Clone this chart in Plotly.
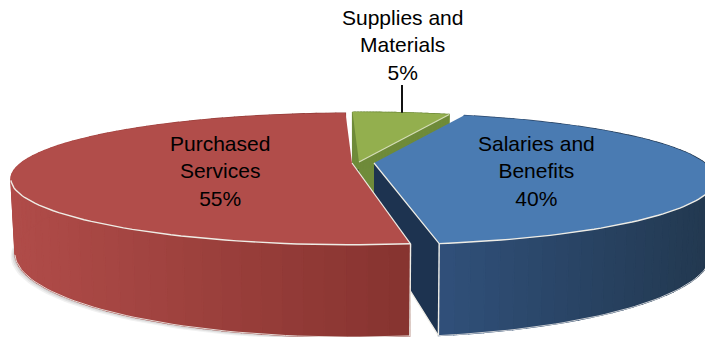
import math
import plotly.graph_objects as go

# Budget shares, clockwise from the back of the disc
categories = ["Supplies and<br>Materials", "Salaries and<br>Benefits", "Purchased<br>Services"]
shares = [5, 40, 55]
share_labels = ["5%", "40%", "55%"]

# Slice styling and position, same order as categories
apex_x = [359, 374, 352]
apex_y = [162, 163, 163]
front_skew = [10, 9.5, 10.4]
top_colors = ["#93AF4E", "#4A7BB2", "#B14D4A"]
wall_left = ["#6F8B3A", "#30507A", "#B04C49"]
wall_right = ["#6F8B3A", "#22384F", "#86332F"]
inner_colors = ["#6F8B3A", "#1D3350", "#86332F"]
label_x = [402, 536, 220]
label_y = [45, 171, 171]

# Camera used for the tilted disc
RADIUS = 331
TILT = 62
PERSPECTIVE = 0.242
DEPTH = 70
RIM = "#EFEDE6"


def project(angle_deg, slice_index, lower=False):
    """Map an angle on a slice's disc (clockwise from the back) to the page."""
    ax, ay = apex_x[slice_index], apex_y[slice_index]
    lean = -1.4 * max(0.0, 1 - min(angle_deg, 360 - angle_deg) / 9)
    t = math.radians(angle_deg + lean
                     + front_skew[slice_index] * math.sin(math.radians(angle_deg) / 2))
    disc_x, disc_y = math.sin(t), math.cos(t)
    s = 1 / (1 + PERSPECTIVE * disc_y)
    x = RADIUS * disc_x * s
    y = ay - TILT * disc_y * s
    if lower:
        return ax + x * 0.988, y + DEPTH * s
    return ax + x, y


def blend(c1, c2, t):
    a = [int(c1[i:i + 2], 16) for i in (1, 3, 5)]
    b = [int(c2[i:i + 2], 16) for i in (1, 3, 5)]
    return "rgb(%d,%d,%d)" % tuple(round(p + (q - p) * t) for p, q in zip(a, b))


def poly(fig, pts, color, opacity=1.0, edge=1.2):
    fig.add_trace(go.Scatter(
        x=[p[0] for p in pts] + [pts[0][0]],
        y=[p[1] for p in pts] + [pts[0][1]],
        mode="lines", fill="toself", fillcolor=color, opacity=opacity,
        line=dict(width=edge, color=color), hoverinfo="skip", showlegend=False))


def stroke(fig, pts, color=RIM, width=1.4):
    fig.add_trace(go.Scatter(
        x=[p[0] for p in pts], y=[p[1] for p in pts], mode="lines",
        line=dict(width=width, color=color), hoverinfo="skip", showlegend=False))


def steps(a, b, n):
    return [a + (b - a) * i / n for i in range(n + 1)]


fig = go.Figure()

# Angular spans derived from the shares
spans = []
start = 0.0
for share in shares:
    end = start + share * 3.6
    spans.append((start, end))
    start = end

green, blue, red = 0, 1, 2

# Soft shadow under the outer rim of the largest slice
a0, a1 = spans[red]
for off, op in [(6, 0.10), (4, 0.14), (2, 0.20)]:
    rim = [project(a, red, lower=True) for a in steps(a0, a1, 120)]
    poly(fig, [(x - off * 0.7, y + off * 0.5) for x, y in rim], "#777777", op, edge=0)

for i in [green, blue, red]:
    a0, a1 = spans[i]
    ax, ay = apex_x[i], apex_y[i]
    low_apex = (ax, ay + DEPTH)

    # Flat cut faces that look toward the camera
    if i == green:
        poly(fig, [(ax, ay), project(a0, i), project(a0, i, lower=True), low_apex], "#4E5E2A", edge=0)
    if i != red:
        poly(fig, [(ax, ay), project(a1, i), project(a1, i, lower=True), low_apex], inner_colors[i], edge=0)

    # Curved outer wall as narrow shaded strips
    n = 70
    angs = steps(a0, a1, n)
    xs = [project(a, i)[0] for a in angs]
    lo, hi = min(xs), max(xs)
    for a, b in zip(angs[:-1], angs[1:]):
        t = (project((a + b) / 2, i)[0] - lo) / (hi - lo)
        poly(fig, [project(a, i), project(b, i),
                   project(b, i, lower=True), project(a, i, lower=True)],
             blend(wall_left[i], wall_right[i], t))

    # Top face
    top_rim = [project(a, i) for a in steps(a0, a1, 120)]
    low_rim = [project(a, i, lower=True) for a in steps(a0, a1, 120)]
    poly(fig, [(ax, ay)] + top_rim, top_colors[i], edge=0)

    # Pale bevel lines along the front edges
    if i == blue:
        stroke(fig, top_rim[60:])
        stroke(fig, [top_rim[-1], low_rim[-1]])
        stroke(fig, [(ax, ay), top_rim[-1]], width=1.2)
        stroke(fig, [low_rim[-1], low_apex], width=1.2)
        stroke(fig, low_rim[60:], "#C8CCD2", 1)
    elif i == red:
        stroke(fig, top_rim[:52])
        stroke(fig, [top_rim[0], low_rim[0]])
        stroke(fig, [(ax, ay), top_rim[0]], width=1.2)
        stroke(fig, low_rim[:52], "#E6D6D2", 1)
    else:
        stroke(fig, [(ax, ay), top_rim[-1]], "#D5DDB8", 1.2)

# Leader line from the small slice up to its label
mid_top = project(sum(spans[green]) / 2, green)
fig.add_trace(go.Scatter(x=[label_x[green], label_x[green]], y=[85, mid_top[1]], mode="lines",
                         line=dict(color="#111111", width=2), hoverinfo="skip", showlegend=False))

for i in range(3):
    fig.add_annotation(
        x=label_x[i], y=label_y[i], xref="x", yref="y", showarrow=False,
        text=categories[i] + "<br>" + share_labels[i], align="center",
        font=dict(family="Liberation Sans", size=21, color="#000000"))

fig.update_layout(
    width=705, height=337, margin=dict(l=0, r=0, t=0, b=0),
    paper_bgcolor="white", plot_bgcolor="white", showlegend=False,
    xaxis=dict(range=[0, 705], visible=False, fixedrange=True),
    yaxis=dict(range=[337, 0], visible=False, fixedrange=True),
)
fig.write_html("out.html", config={"displayModeBar": False})
